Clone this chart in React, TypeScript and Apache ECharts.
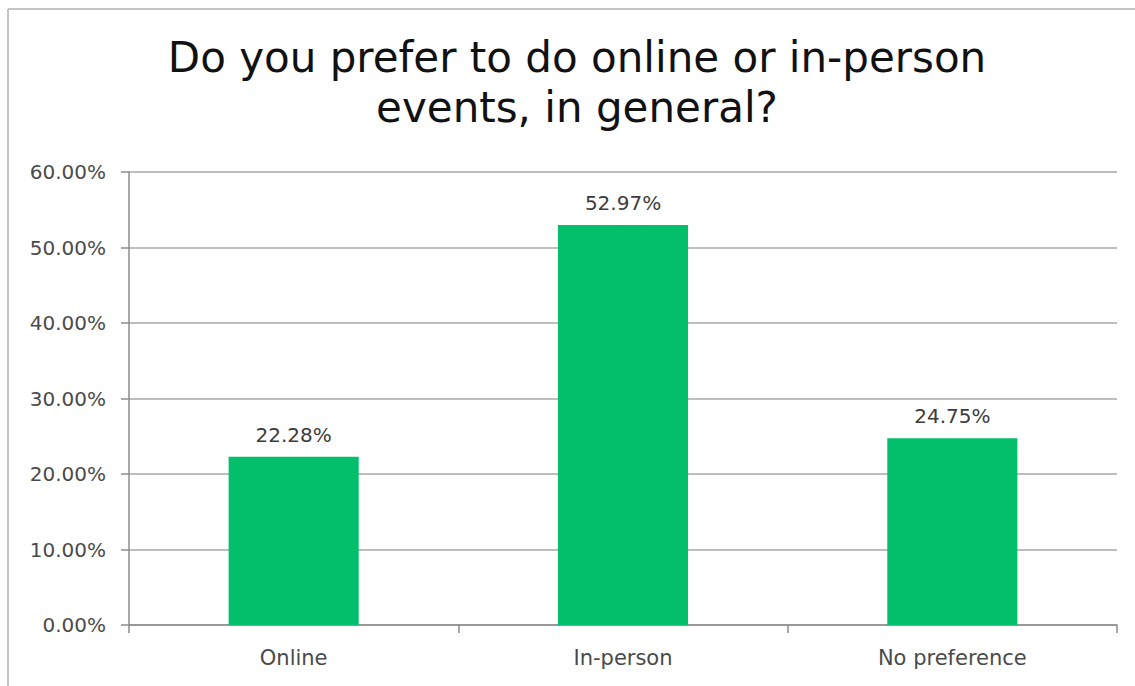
import React, { useEffect, useRef } from "react";
import * as echarts from "echarts";

const titleLines = ["Do you prefer to do online or in-person", "events, in general?"];
const categories = ["Online", "In-person", "No preference"];
const values = [22.28, 52.97, 24.75];
const yTicks = { min: 0, max: 60, interval: 10 };

export default function App() {
  const ref = useRef<HTMLDivElement>(null);
  useEffect(() => {
    if (!ref.current) return;
    const chart = echarts.init(ref.current, null, { renderer: "svg" });
    chart.setOption({
      animation: false,
      backgroundColor: "#ffffff",
      graphic: [
        { type: "line", shape: { x1: 8, y1: 9, x2: 1135, y2: 9 }, style: { stroke: "#c4c4c4", lineWidth: 2 } },
        { type: "line", shape: { x1: 8, y1: 9, x2: 8, y2: 686 }, style: { stroke: "#c4c4c4", lineWidth: 2 } },
        {
          type: "text",
          style: {
            text: titleLines.join("\n"),
            x: 577,
            y: 32,
            textAlign: "center",
            textVerticalAlign: "top",
            fontSize: 42,
            fontFamily: "DejaVu Sans",
            lineHeight: 50,
            fill: "#111111",
          },
        },
      ],
      grid: { left: 129, right: 18, top: 172, bottom: 61 },
      xAxis: {
        type: "category",
        data: categories,
        axisLine: { lineStyle: { color: "#8c8c8c", width: 1.5 } },
        axisTick: { show: true, length: 8, lineStyle: { color: "#8c8c8c", width: 1.5 } },
        axisLabel: {
          margin: 22,
          fontSize: 21,
          fontFamily: "DejaVu Sans",
          color: "#4a4a4a",
        },
      },
      yAxis: {
        type: "value",
        min: yTicks.min,
        max: yTicks.max,
        interval: yTicks.interval,
        axisLine: { show: true, lineStyle: { color: "#8c8c8c", width: 1.5 } },
        axisTick: { show: true, length: 8, lineStyle: { color: "#8c8c8c", width: 1.5 } },
        splitLine: { lineStyle: { color: "#a8a8a8", width: 1.5 } },
        axisLabel: {
          margin: 23,
          fontSize: 20,
          fontFamily: "DejaVu Sans",
          color: "#4a4a4a",
          formatter: (v: number) => v.toFixed(2) + "%",
        },
      },
      series: [
        {
          type: "bar",
          data: values,
          barWidth: "39.5%",
          itemStyle: { color: "#03bf6c" },
          label: {
            show: true,
            position: "top",
            distance: 12,
            fontSize: 20,
            fontFamily: "DejaVu Sans",
            color: "#3c3c3c",
            formatter: (p: any) => Number(p.value).toFixed(2) + "%",
          },
        },
      ],
    });
    return () => chart.dispose();
  }, []);
  return (
    <div
      ref={ref}
      style={{ position: "fixed", left: 0, top: 0, width: 1135, height: 686 }}
    />
  );
}
